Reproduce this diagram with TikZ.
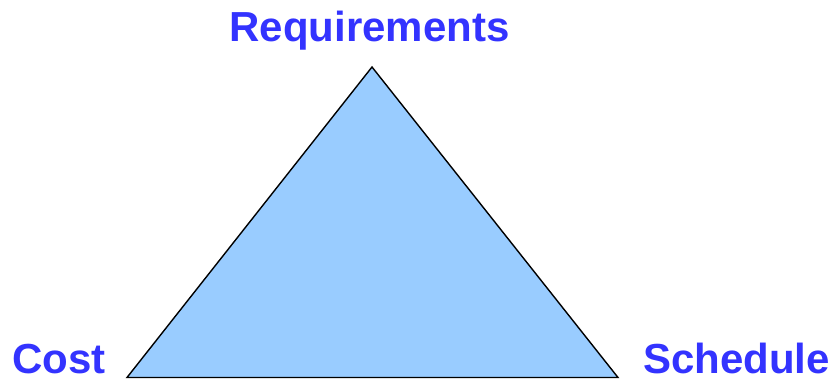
\documentclass[tikz,border=0pt]{standalone}
\usepackage{fontspec}
\setmainfont{Liberation Sans}
\usepackage{xcolor}
\usetikzlibrary{positioning}
\definecolor{labelblue}{HTML}{3333FF}
\definecolor{trifill}{HTML}{99CCFF}

\begin{document}
\begin{tikzpicture}[
    x=1pt,y=-1pt,
    corner/.style={font=\fontsize{42}{48}\selectfont\bfseries,text=labelblue,inner sep=0pt},
    tri/.style={draw=black,fill=trifill,line width=1.4pt,line join=miter}
]
\useasboundingbox (0,0) rectangle (832,380);
\coordinate (top) at (372,67);
\coordinate (left) at (127,377.5);
\coordinate (right) at (618,377.5);
\draw[tri] (top) -- (left) -- (right) -- cycle;
\node[corner,anchor=base] (req) at (369.5,41) {Requirements};
\node[corner,text depth=0pt,anchor=base west] (cost) at (12,373.5) {Cost};
\node[corner,text depth=0pt,anchor=base east] (sched) at (830,373.5) {Schedule};
\end{tikzpicture}
\end{document}
